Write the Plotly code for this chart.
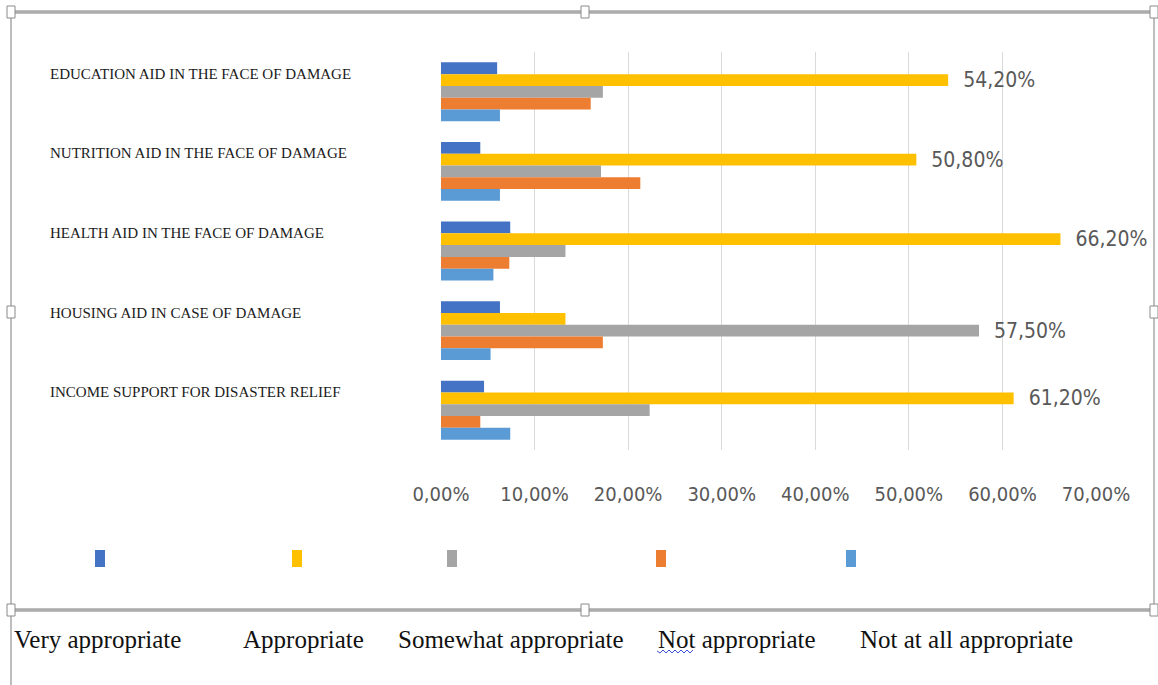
import plotly.graph_objects as go

# ---------------- data ----------------
categories = [
    "EDUCATION AID IN THE FACE OF DAMAGE",
    "NUTRITION AID IN THE FACE OF DAMAGE",
    "HEALTH AID IN THE FACE OF DAMAGE",
    "HOUSING AID IN CASE OF DAMAGE",
    "INCOME SUPPORT FOR DISASTER RELIEF",
]
series_names = ["Very appropriate", "Appropriate", "Somewhat appropriate",
                "Not appropriate", "Not at all appropriate"]
very_appropriate = [6.0, 4.2, 7.4, 6.3, 4.6]
appropriate = [54.2, 50.8, 66.2, 13.3, 61.2]
somewhat_appropriate = [17.3, 17.1, 13.3, 57.5, 22.3]
not_appropriate = [16.0, 21.3, 7.3, 17.3, 4.2]
not_at_all_appropriate = [6.3, 6.3, 5.6, 5.3, 7.4]
tick_values = [0, 10, 20, 30, 40, 50, 60, 70]
tick_labels = ["0,00%", "10,00%", "20,00%", "30,00%", "40,00%", "50,00%", "60,00%", "70,00%"]
series_colors = ["#4472C4", "#FFC000", "#A5A5A5", "#ED7D31", "#5B9BD5"]

series_values = [very_appropriate, appropriate, somewhat_appropriate,
                 not_appropriate, not_at_all_appropriate]

# ---------------- geometry (window pixel coords) ----------------
W, H = 1158, 685
L, R, T, B = 441, 1096, 52, 450


def px(x):
    return (x - L) / (R - L)


def py(y):
    return (B - y) / (B - T)


NARROW = "Liberation Sans Narrow, Arial Narrow, DejaVu Sans Condensed, sans-serif"
SERIF = "Liberation Serif, Times New Roman, serif"

fig = go.Figure()

# max of each group gets a data label
group_max = [max(s[i] for s in series_values) for i in range(len(categories))]

for name, vals, col in zip(series_names, series_values, series_colors):
    texts = [("\u00a0\u00a0" + f"{v:.2f}%".replace(".", ",")) if v == group_max[i] else ""
             for i, v in enumerate(vals)]
    fig.add_trace(go.Bar(
        name=name, y=categories, x=vals, orientation="h",
        marker=dict(color=col, line=dict(width=0)),
        text=texts, textposition="outside", constraintext="none",
        textfont=dict(family=NARROW, size=21, color="#595959"),
        cliponaxis=False, hoverinfo="skip", showlegend=False,
    ))

fig.update_layout(
    width=W, height=H,
    margin=dict(l=L, r=W - R, t=T, b=H - B),
    paper_bgcolor="white", plot_bgcolor="white",
    barmode="group", bargap=0.26, bargroupgap=0,
    xaxis=dict(range=[0, 70], tickvals=tick_values, ticktext=tick_labels,
               showgrid=True, gridcolor="#D9D9D9", gridwidth=1,
               zeroline=False, showline=False, ticks="",
               ticklabelstandoff=30,
               tickfont=dict(family=NARROW, size=20, color="#595959")),
    yaxis=dict(categoryorder="array", categoryarray=categories,
               autorange="reversed", showticklabels=False,
               showgrid=False, zeroline=False, showline=False, ticks=""),
    showlegend=False,
)

annotations = []
# category labels
for c in categories:
    annotations.append(dict(
        text=c, xref="paper", x=px(48), xanchor="left",
        yref="y", y=c, yshift=18, yanchor="middle",
        showarrow=False, font=dict(family=SERIF, size=15, color="#1A1A1A")))

# legend texts below the frame
legend_text_x = [12, 241, 396, 656, 858]
for name, x in zip(series_names, legend_text_x):
    annotations.append(dict(
        text=name, xref="paper", x=px(x), xanchor="left",
        yref="paper", y=py(639), yanchor="middle",
        showarrow=False, font=dict(family=SERIF, size=25, color="#111111")))

fig.update_layout(annotations=annotations)

shapes = []
# frame of the embedded chart
frame_col = "#A8A8A8"
shapes.append(dict(type="line", xref="paper", yref="paper",
                   x0=px(11), x1=px(11), y0=py(12), y1=py(685),
                   line=dict(color=frame_col, width=1.5)))
shapes.append(dict(type="line", xref="paper", yref="paper",
                   x0=px(1154), x1=px(1154), y0=py(12), y1=py(610),
                   line=dict(color=frame_col, width=1.5)))
for yy in (12, 610):
    shapes.append(dict(type="line", xref="paper", yref="paper",
                       x0=px(11), x1=px(1154), y0=py(yy), y1=py(yy),
                       line=dict(color="#BDBDBD", width=4)))
    shapes.append(dict(type="line", xref="paper", yref="paper",
                       x0=px(11), x1=px(1154), y0=py(yy), y1=py(yy),
                       line=dict(color="#9C9C9C", width=1)))
# selection handles
for hx, hy in [(11, 12), (585, 12), (1154, 12), (11, 312), (1154, 312),
               (11, 610), (585, 610), (1154, 610)]:
    shapes.append(dict(type="rect", xref="paper", yref="paper",
                       x0=px(hx - 4), x1=px(hx + 4), y0=py(hy - 6), y1=py(hy + 6),
                       fillcolor="white", line=dict(color="#8A8A8A", width=1)))
# legend markers inside the chart frame
marker_x = [95, 292, 447, 656, 846]
for x, col in zip(marker_x, series_colors):
    shapes.append(dict(type="rect", xref="paper", yref="paper",
                       x0=px(x), x1=px(x + 10), y0=py(550), y1=py(567),
                       fillcolor=col, line=dict(width=0)))
# spell-check wavy underline under "Not"
wave = "M {} {}".format(px(657), py(651))
for k in range(12):
    xk = 657 + (k + 1) * 3
    yk = 653 if k % 2 == 0 else 650
    wave += " L {} {}".format(px(xk), py(yk))
shapes.append(dict(type="path", xref="paper", yref="paper", path=wave,
                   line=dict(color="#3A50D8", width=1)))

fig.update_layout(shapes=shapes)

fig.write_html(
    "out.html",
    config={"displayModeBar": False},
    post_script="document.body.style.margin='0';document.body.style.overflow='hidden';",
)
